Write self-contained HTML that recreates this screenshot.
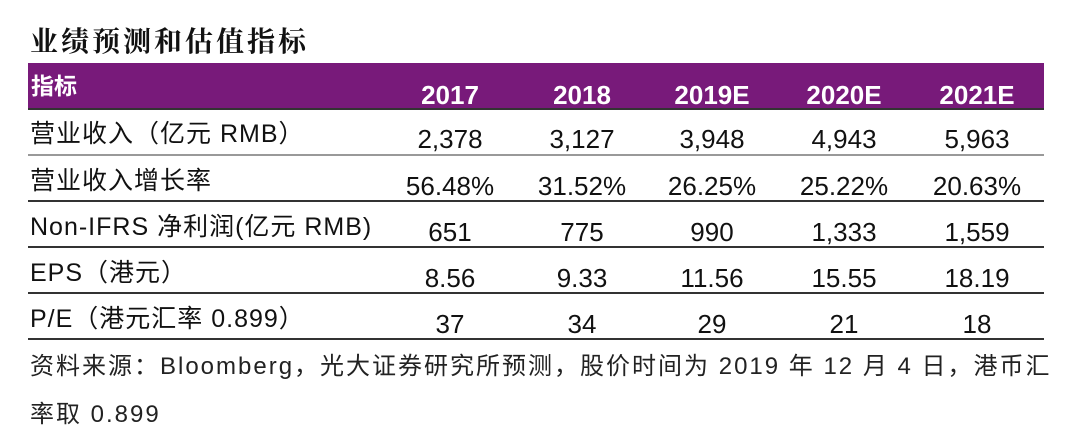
<!DOCTYPE html>
<html><head><meta charset="utf-8">
<style>
body{margin:0;width:1080px;height:445px;background:#fff;position:relative;overflow:hidden;font-family:"Liberation Sans","Noto Sans CJK SC",sans-serif;color:#111}
.abs{position:absolute;white-space:nowrap}
#title{left:30px;top:20px;font-size:28px;letter-spacing:3px;font-weight:bold;font-family:"Noto Serif CJK SC","Noto Sans CJK SC",serif;color:#111}
#hdr{left:28px;top:63px;width:1016px;height:45px;background:#781a7a;border-bottom:2px solid #333}
.h{color:#fff;font-weight:bold;font-size:25px}
.line{position:absolute;left:28px;width:1016px;height:2px;background:#333}
.lab{font-size:25px;letter-spacing:1px;left:30px}
.num{font-size:26px;transform:translateX(-50%)}
.foot{font-size:24px;letter-spacing:2px;left:30px;color:#222}
</style></head><body>
<div class="abs" id="title">业绩预测和估值指标</div>
<div class="abs" id="hdr"></div>
<div class="abs h" style="left:31px;top:67px;font-size:23px">指标</div>
<div id="cells"></div>
<div class="abs foot" style="top:346px">资料来源：Bloomberg，光大证券研究所预测，股价时间为 2019 年 12 月 4 日，港币汇</div>
<div class="abs foot" style="top:394px">率取 0.899</div>
<script>
const years=["2017","2018","2019E","2020E","2021E"];
const labels=["营业收入（亿元 RMB）","营业收入增长率","Non-IFRS 净利润(亿元 RMB)","EPS（港元）","P/E（港元汇率 0.899）"];
const revenue=["2,378","3,127","3,948","4,943","5,963"];
const growth=["56.48%","31.52%","26.25%","25.22%","20.63%"];
const profit=["651","775","990","1,333","1,559"];
const eps=["8.56","9.33","11.56","15.55","18.19"];
const pe=["37","34","29","21","18"];
const rows=[revenue,growth,profit,eps,pe];
const colX=[450,582,712,844,977];
const rowTop=[108,155,201,247,293];
const lines=[155,201,247,293,339];
const c=document.getElementById('cells');
years.forEach((y,i)=>{const d=document.createElement('div');d.className='abs h num';d.style.left=colX[i]+'px';d.style.top='80px';d.textContent=y;


c.appendChild(d);});
labels.forEach((l,r)=>{const d=document.createElement('div');d.className='abs lab';d.style.top=(rowTop[r]+6)+'px';d.textContent=l;


c.appendChild(d);
rows[r].forEach((v,i)=>{const n=document.createElement('div');n.className='abs num';n.style.left=colX[i]+'px';n.style.top=(rowTop[r]+16)+'px';n.textContent=v;


c.appendChild(n);});
const ln=document.createElement('div');ln.className='line';ln.style.top=(lines[r]-1)+'px';if(r==0){ln.style.background='#999';}


c.appendChild(ln);});
</script>
</body></html>
